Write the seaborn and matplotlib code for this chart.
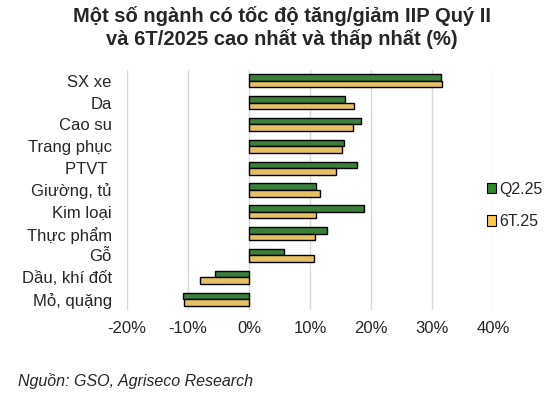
import pandas as pd
import matplotlib
matplotlib.use("Agg")
import matplotlib.pyplot as plt
import seaborn as sns
from matplotlib.patches import Patch

categories = ["SX xe", "Da", "Cao su", "Trang phục", "PTVT ", "Giường, tủ",
              "Kim loại", "Thực phẩm", "Gỗ", "Dầu, khí đốt", "Mỏ, quặng"]
q2_25 = [31.5, 15.7, 18.3, 15.5, 17.7, 11.0, 18.8, 12.8, 5.8, -5.6, -10.8]
t6_25 = [31.6, 17.2, 17.0, 15.2, 14.2, 11.7, 11.0, 10.9, 10.6, -8.1, -10.7]
series = ["Q2.25", "6T.25"]
colors = ["#2f8a2f", "#fcc94e"]

df = pd.DataFrame({
    "cat": categories * 2,
    "val": q2_25 + t6_25,
    "series": [series[0]] * len(categories) + [series[1]] * len(categories),
})

sns.set_style("white")
plt.rcParams["font.family"] = ["Liberation Sans", "DejaVu Sans"]

fig = plt.figure(figsize=(5.58, 3.95), dpi=100)
ax = fig.add_axes([0.2276, 0.215, 0.6559, 0.608])

sns.barplot(data=df, y="cat", x="val", hue="series", hue_order=series,
            palette=colors, orient="h", width=0.6, edgecolor="black",
            linewidth=1, ax=ax, legend=False)

ax.set_xlim(-20, 40)
ax.set_xticks(range(-20, 41, 10))
ax.set_xticklabels([f"{t}%" for t in range(-20, 41, 10)])
ax.xaxis.grid(True, color="#d9d9d9", linewidth=1)
ax.set_axisbelow(True)
for s in ax.spines.values():
    s.set_visible(False)
ax.tick_params(axis="both", length=0, labelsize=12)
ax.tick_params(axis="x", pad=8)
ax.tick_params(axis="y", pad=11)
ax.set_xlabel("")
ax.set_ylabel("")

handles = [Patch(facecolor=c, edgecolor="black", linewidth=0.8) for c in colors]
fig.legend(handles, series, loc="center left", bbox_to_anchor=(0.872, 0.48),
           frameon=False, fontsize=11.5, handlelength=0.6, handleheight=0.6,
           handletextpad=0.2, labelspacing=1.1, borderpad=0, borderaxespad=0)

fig.suptitle("Một số ngành có tốc độ tăng/giảm IIP Quý II\nvà 6T/2025 cao nhất và thấp nhất (%)",
             x=0.505, y=0.985, fontsize=14.5, fontweight="bold", linespacing=1.2)
fig.text(0.032, 0.022, "Nguồn: GSO, Agriseco Research", fontsize=11.5, style="italic")

fig.savefig("out.png", dpi=100)
